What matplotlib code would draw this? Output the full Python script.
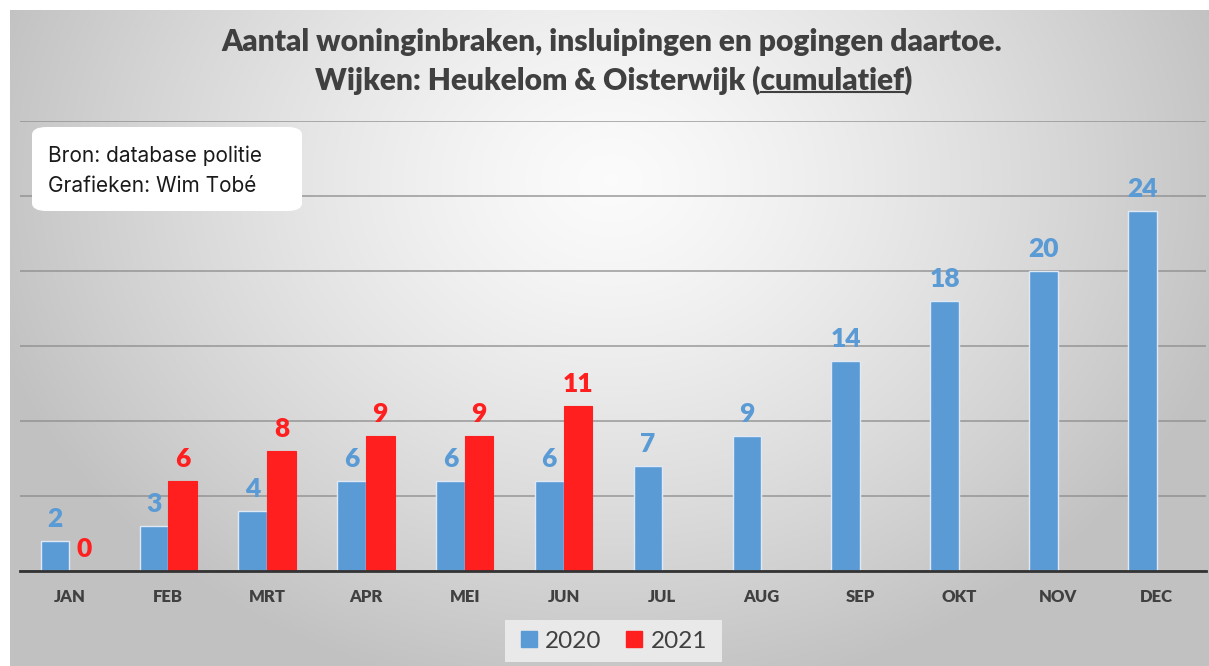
import numpy as np
import matplotlib
matplotlib.use("Agg")
import matplotlib.pyplot as plt
from matplotlib.patches import FancyBboxPatch, Rectangle
from matplotlib.lines import Line2D

# ---- data ----
months = ["JAN", "FEB", "MRT", "APR", "MEI", "JUN", "JUL", "AUG", "SEP", "OKT", "NOV", "DEC"]
values_2020 = [2, 3, 4, 6, 6, 6, 7, 9, 14, 18, 20, 24]
values_2021 = [0, 6, 8, 9, 9, 11]
series_names = ["2020", "2021"]
title_lines = ["Aantal woninginbraken, insluipingen en pogingen daartoe.",
               "Wijken: Heukelom & Oisterwijk ("]
title_underlined = "cumulatief"
source_lines = ["Bron: database politie", "Grafieken: Wim Tobé"]

BLUE = "#5b9bd5"
RED = "#ff1f1f"
DARK = "#404040"
W, H = 1209, 666
TFS = 21.5

fig = plt.figure(figsize=(W / 100, H / 100), dpi=100)
fig.patch.set_facecolor("white")

# background gradient
bg = fig.add_axes([10 / W, 0, (W - 10) / W, (H - 10) / H], zorder=-10)
yy, xx = np.mgrid[0:656, 0:1199]
d = np.sqrt(((xx - 600) / 800.0) ** 2 + ((yy - 170) / 650.0) ** 2)
g = np.clip(0.985 - 0.30 * d ** 1.3, 0.76, 1.0)
bg.imshow(np.dstack([g, g, g]), aspect="auto", interpolation="bilinear")
bg.axis("off")

# main axes
ax = fig.add_axes([20 / W, (H - 571) / H, (1206 - 20) / W, (571 - 121) / H])
ax.set_facecolor("none")
x = np.arange(len(months))
bw = 0.29
ax.bar(x - bw / 2, values_2020, bw, color=BLUE, edgecolor="#dfe9f5", linewidth=1.0, zorder=3, label=series_names[0])
x2 = np.arange(len(values_2021))
ax.bar(x2 + bw / 2, values_2021, bw, color=RED, edgecolor=RED, linewidth=0.8, zorder=3, label=series_names[1])

for xi, v in zip(x - bw / 2, values_2020):
    ax.annotate(str(v), (xi, v), xytext=(0, 7), textcoords="offset points", ha="center", va="bottom",
                fontsize=19, fontweight="heavy", color=BLUE, family="Lato")
for xi, v in zip(x2 + bw / 2, values_2021):
    ax.annotate(str(v), (xi, v), xytext=(0, 7), textcoords="offset points", ha="center", va="bottom",
                fontsize=19, fontweight="heavy", color=RED, family="Lato")

ax.set_xlim(-0.5, len(months) - 0.5)
ax.set_ylim(0, 30)
ax.set_yticks(np.arange(0, 31, 5))
ax.yaxis.grid(True, color="#8c8c8c", linewidth=1.2, alpha=0.8, zorder=0)
ax.tick_params(axis="y", left=False, labelleft=False)
ax.set_xticks(x)
ax.set_xticklabels(months, fontsize=12, fontweight="heavy", color=DARK, family="Lato")
ax.tick_params(axis="x", length=0, pad=13)
for s in ["top", "right", "left"]:
    ax.spines[s].set_visible(False)
ax.spines["bottom"].set_color("#333333")
ax.spines["bottom"].set_linewidth(2)
ax.spines["bottom"].set_zorder(4)

# title
fig.text(612 / W, 1 - 42 / H, title_lines[0], ha="center", va="center", fontsize=TFS,
         fontweight="heavy", color=DARK, family="Lato")
t2 = fig.text(614 / W, 1 - 80 / H, title_lines[1] + title_underlined + ")", ha="center", va="center",
              fontsize=TFS, fontweight="heavy", color=DARK, family="Lato")
# underline under "cumulatief"
fig.canvas.draw()
r = fig.canvas.get_renderer()
bb = t2.get_window_extent(r)
tmp1 = fig.text(0, 0, title_lines[1], fontsize=TFS, fontweight="heavy", family="Lato")
tmp2 = fig.text(0, 0, title_lines[1] + title_underlined, fontsize=TFS, fontweight="heavy", family="Lato")
w1 = tmp1.get_window_extent(r).width
w2 = tmp2.get_window_extent(r).width
tmp1.remove(); tmp2.remove()
ux0 = (bb.x0 + w1) / W
ux1 = (bb.x0 + w2) / W
uy = (bb.y0 + 3) / H
fig.add_artist(Line2D([ux0, ux1], [uy, uy], color=DARK, linewidth=1.5, transform=fig.transFigure))

# source box
box = FancyBboxPatch((32 / W, 1 - 211 / H), (302 - 32) / W, (211 - 127) / H,
                     boxstyle="round,pad=0,rounding_size=0.012", transform=fig.transFigure,
                     facecolor="white", edgecolor="none", zorder=5)
fig.add_artist(box)
fig.text(48 / W, 1 - 156 / H, source_lines[0], ha="left", va="center", fontsize=15, color="#1a1a1a",
         family="Inter", zorder=6)
fig.text(48 / W, 1 - 186 / H, source_lines[1], ha="left", va="center", fontsize=15, color="#1a1a1a",
         family="Inter", zorder=6)

# legend
fig.add_artist(Rectangle((505 / W, 1 - 662 / H), (722 - 505) / W, (662 - 620) / H,
                         transform=fig.transFigure, facecolor="#e9e9e9", edgecolor="none", zorder=1))
handles = [Rectangle((0, 0), 1, 1, color=BLUE), Rectangle((0, 0), 1, 1, color=RED)]
leg = fig.legend(handles, series_names, loc="center", bbox_to_anchor=(614 / W, 1 - 641 / H),
                 ncol=2, frameon=False, prop={"family": "Lato", "size": 17.5},
                 handlelength=0.65, handleheight=0.65, handletextpad=0.35, columnspacing=1.0)
for t in leg.get_texts():
    t.set_color(DARK)

fig.savefig("out.png", dpi=100)
